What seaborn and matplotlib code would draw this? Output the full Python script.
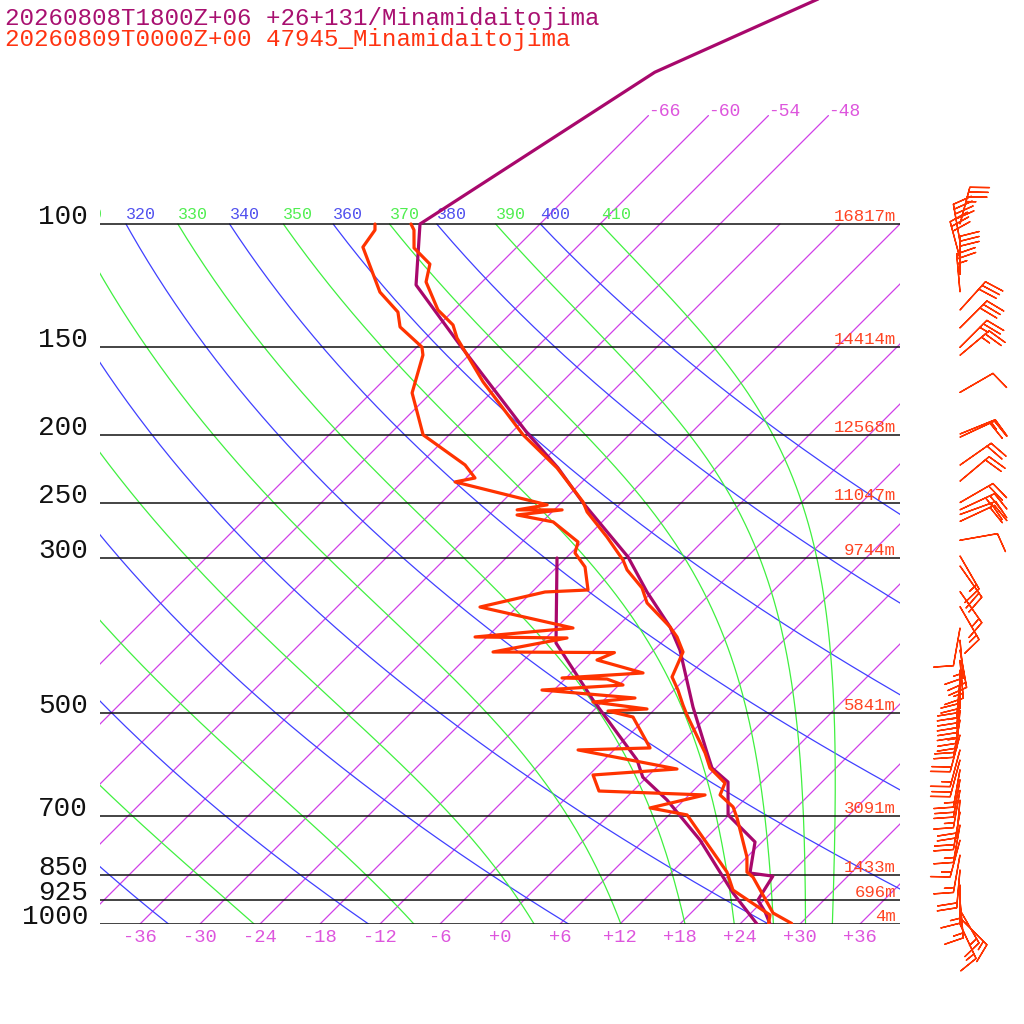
import numpy as np
import pandas as pd
import seaborn as sns
import matplotlib as mat

mat.use("Agg")

import matplotlib.pyplot as plt
from matplotlib import transforms


# --- sounding data (pressure hPa, temperature C) ---
model_t_p = [45, 60.7, 100, 122.2, 148.9, 198.8, 223.1, 250.3, 299, 335.5, 376.4, 406.1,
             489.8, 569.6, 598.6, 626.8, 698.5, 763.5, 845.7, 854.3, 924.3, 961, 1000]
model_t = [-58.5, -69.7, -78.0, -72.3, -61.9, -46.4, -39.8, -33.8, -23.9, -18.5, -12.7, -9.4,
           -2.4, 3.6, 5.6, 8.6, 11.9, 17.3, 19.9, 22.5, 23.4, 25.3, 27.0]

model_td_p = [300, 396.8, 478.6, 583, 617, 665, 758.6, 903, 1000]
model_td = [-30.9, -22.5, -13.1, -2.7, -0.4, 4.3, 11.6, 20.2, 25.7]

obs_t_p = [100, 102, 108.2, 114.1, 121.0, 132.7, 139.4, 145.5, 168.1, 200.1, 223.1, 249.5,
           257.8, 280, 302, 312, 331.1, 347.8, 376.4, 389, 408.7, 443.7, 463.2, 486.6,
           502.9, 569.6, 598.6, 628.9, 654.1, 680.4, 705.5, 802.4, 842.9, 856.9, 964.4, 998]
obs_t = [-78.9, -78.0, -76.2, -73.0, -71.6, -67.6, -64.6, -62.9, -55.9, -46.6, -39.9, -33.9,
         -32.5, -28.0, -24.1, -22.7, -19.4, -17.4, -12.7, -11.0, -8.9, -7.5, -5.6, -3.6,
         -2.2, 3.4, 5.4, 8.4, 9.1, 11.6, 13.1, 18.0, 19.5, 20.6, 26.2, 29.1]

obs_td_p = [100, 102, 107.9, 125.1, 133.6, 140.3, 149.9, 153.9, 174.3, 200.1, 220.9, 230.6,
            233.6, 251.9, 256.1, 256.1, 260.4, 266.4, 284.6, 295.1, 309, 333.3, 335.5, 352.5,
            377.7, 389, 390.3, 408.7, 409.5, 419.6, 437.9, 445.2, 446.7, 455.6, 463.2, 475.5,
            481.8, 493, 496.3, 506.2, 560.4, 564.1, 600.6, 612.5, 645.7, 654.1, 682.6, 698.5,
            842.9, 894.3, 970.8, 998]
obs_td = [-82.5, -81.9, -81.4, -75.2, -71.4, -69.7, -65.5, -64.6, -61.9, -56.6, -49.4, -47.1,
          -48.7, -37.2, -39.7, -35.2, -39.2, -34.9, -30.4, -29.6, -27.2, -24.6, -28.7, -33.7,
          -22.3, -31.2, -21.9, -27.9, -15.7, -16.7, -10.8, -18.4, -13.8, -11.6, -19.2, -9.1,
          -12.9, -6.8, -10.5, -7.4, -2.6, -9.6, 2.2, -5.6, -3.4, 7.6, 3.4, 7.8,
          17.5, 19.9, 26.1, 26.8]

# observed winds (hPa, direction deg, speed kt)
wind_p = [100, 106, 112, 118, 125, 132.7, 140.7, 150, 154, 174, 199.5, 201.6, 221, 233,
          250, 256, 260, 266, 283, 298, 308, 335, 352, 378, 393, 406, 420, 434, 448, 463,
          478, 495, 511, 537, 564, 583, 602, 622, 644, 665, 692, 722, 759, 797, 837, 880,
          924, 955, 980, 1000]
wind_dir = [15, 350, 345, 0, 355, 42, 45, 45, 50, 60, 68, 65, 55, 50,
            60, 65, 70, 65, 80, 150, 145, 145, 150, 190, 175, 170, 175, 180, 185, 185,
            185, 185, 190, 195, 195, 195, 190, 190, 190, 185, 190, 190, 195, 190, 185, 180,
            175, 150, 135, 155]
wind_spd = [35, 40, 30, 30, 25, 30, 30, 25, 25, 10, 15, 20, 20, 20,
            20, 25, 20, 20, 10, 15, 20, 15, 15, 10, 15, 20, 15, 20, 20, 25,
            25, 25, 20, 20, 15, 20, 15, 20, 15, 20, 20, 15, 15, 15, 20, 15,
            15, 15, 15, 15]

# labelled pressure levels and heights
levels = [100, 150, 200, 250, 300, 500, 700, 850, 925, 1000]
heights = ["16817m", "14414m", "12568m", "11047m", "9744m", "5841m", "3091m", "1433m", "696m", "4m"]
temp_ticks = [-36, -30, -24, -18, -12, -6, 0, 6, 12, 18, 24, 30, 36]
isotherms = list(range(-66, 37, 6))
dry_thetas = list(range(240, 401, 20))
moist_thetas = list(range(250, 411, 20))

title_model = "20260808T1800Z+06 +26+131/Minamidaitojima"
title_obs = "20260809T0000Z+00 47945_Minamidaitojima"

PURPLE = "#a8086c"
RED = "#ff3300"
ISO = "#d040e8"
BLUE = "#4040ff"
GREEN = "#40f040"
KAPPA = 0.2857
SKEW = 70.0
P_TOP = 1000.0 * 10 ** (-924 / 700)
FONT = ["Liberation Mono", "DejaVu Sans Mono"]


def skew_x(t, p):
    return np.asarray(t, dtype=float) + SKEW * np.log10(1000.0 / np.asarray(p, dtype=float))


def sat_mixing(t_k, p):
    es = 6.112 * np.exp(17.67 * (t_k - 273.15) / (t_k - 29.65))
    return 0.622 * es / (p - es)


def theta_e_sat(t_k, p):
    r = sat_mixing(t_k, p) * 1000.0
    return t_k * (1000.0 / p) ** (0.2854 * (1 - 0.00028 * r)) * np.exp(
        (3.376 / t_k - 0.00254) * r * (1 + 0.00081 * r))


def moist_lapse(t_k, p):
    rs = sat_mixing(t_k, p)
    lv = 2.501e6
    return (287.04 * t_k + lv * rs) / (1005.7 + lv * lv * rs * 0.622 / (287.04 * t_k ** 2)) / p


def moist_adiabat(theta_e, p_levels):
    lo, hi = 200.0, 330.0
    for _ in range(60):
        mid = 0.5 * (lo + hi)
        if theta_e_sat(mid, 1000.0) < theta_e:
            lo = mid
        else:
            hi = mid
    t = [0.5 * (lo + hi)]
    for p0, p1 in zip(p_levels[:-1], p_levels[1:]):
        dp = p1 - p0
        tk = t[-1]
        k1 = moist_lapse(tk, p0)
        k2 = moist_lapse(tk + 0.5 * dp * k1, p0 + 0.5 * dp)
        k3 = moist_lapse(tk + 0.5 * dp * k2, p0 + 0.5 * dp)
        k4 = moist_lapse(tk + dp * k3, p1)
        t.append(tk + dp * (k1 + 2 * k2 + 2 * k3 + k4) / 6.0)
    return np.array(t) - 273.15


def profile(ax, p, t, color):
    df = pd.DataFrame({"x": skew_x(t, p), "p": p})
    sns.lineplot(data=df, x="x", y="p", sort=False, estimator=None, color=color,
                 linewidth=2.3, ax=ax, zorder=5)


def main() -> None:
    sns.set_theme(style="white")
    plt.rcParams["font.family"] = FONT

    fig = plt.figure(figsize=(10.24, 10.24), dpi=100)
    ax = fig.add_axes([100 / 1024, 100 / 1024, 800 / 1024, 924 / 1024])
    ax.set_yscale("log")
    ax.set_xlim(-40, 40)
    ax.set_ylim(1000, P_TOP)

    up = transforms.offset_copy(ax.transData, fig=fig, x=0, y=5, units="dots")
    down = transforms.offset_copy(ax.transData, fig=fig, x=0, y=-5, units="dots")

    # isotherms
    for t in isotherms:
        top = 70.0 if t <= -48 else 100.0
        pp = np.array([1000.0, top])
        ax.plot(skew_x([t, t], pp), pp, color=ISO, lw=0.9, zorder=1)
        if top < 100:
            ax.text(skew_x(t, top), top, f"{t}", color="#dd55dd", fontsize=13,
                    ha="left", va="baseline", clip_on=False)

    # dry adiabats
    pp = np.geomspace(1000, 100, 150)
    for th in dry_thetas:
        tt = th * (pp / 1000.0) ** KAPPA - 273.15
        ax.plot(skew_x(tt, pp), pp, color=BLUE, lw=0.9, zorder=1)
        xl = skew_x(tt[-1], 100)
        if xl > -45:
            ax.text(xl, 100, str(th), color="#5050ee", fontsize=12,
                    ha="left", va="baseline", transform=up, clip_on=True)

    # moist adiabats
    for the in moist_thetas:
        tt = moist_adiabat(the, pp)
        ax.plot(skew_x(tt, pp), pp, color=GREEN, lw=0.9, zorder=1)
        xl = skew_x(tt[-1], 100)
        if xl > -45:
            ax.text(xl, 100, str(the), color="#50ee50", fontsize=12,
                    ha="left", va="baseline", transform=up, clip_on=True)

    # pressure lines, labels and heights
    ytr = ax.get_yaxis_transform()
    for lev, hgt in zip(levels, heights):
        ax.axhline(lev, color="#111111", lw=1.1, zorder=2)
        ax.text(-0.015, lev, str(lev), color="#111111", fontsize=20, ha="right",
                va="baseline", transform=ytr, clip_on=False)
        ax.text(0.995, lev, hgt, color="#ff4422", fontsize=12.5, ha="right",
                va="baseline", clip_on=False,
                transform=transforms.offset_copy(ytr, fig=fig, x=0, y=3, units="dots"))

    for t in temp_ticks:
        lab = f"{t:+d}"
        ax.text(t, 1000, lab, color="#dd55dd", fontsize=13.5, ha="center", va="top",
                transform=down, clip_on=False)

    # profiles
    profile(ax, model_t_p, model_t, PURPLE)
    profile(ax, model_td_p, model_td, PURPLE)
    profile(ax, obs_t_p, obs_t, RED)
    profile(ax, obs_td_p, obs_td, RED)
    ax.axis("off")

    # wind barbs
    axw = fig.add_axes([920 / 1024, 100 / 1024, 104 / 1024, 924 / 1024])
    axw.set_yscale("log")
    axw.set_xlim(-40, 64)
    axw.set_ylim(1000, P_TOP)
    rad = np.deg2rad(wind_dir)
    u = -np.asarray(wind_spd) * np.sin(rad)
    v = -np.asarray(wind_spd) * np.cos(rad)
    axw.barbs(np.zeros(len(wind_p)), wind_p, u, v, length=7.4, color=RED, linewidth=1.0,
              sizes=dict(height=0.5, spacing=0.13), clip_on=False)
    axw.axis("off")

    fig.text(5 / 1024, 1 - 25 / 1024, title_model, color="#a81070", fontsize=17.4,
             ha="left", va="baseline")
    fig.text(5 / 1024, 1 - 46 / 1024, title_obs, color="#ff3311", fontsize=17.4,
             ha="left", va="baseline")

    fig.savefig("out.png", dpi=100, facecolor="white")
    plt.close(fig)


if __name__ == "__main__":
    main()
